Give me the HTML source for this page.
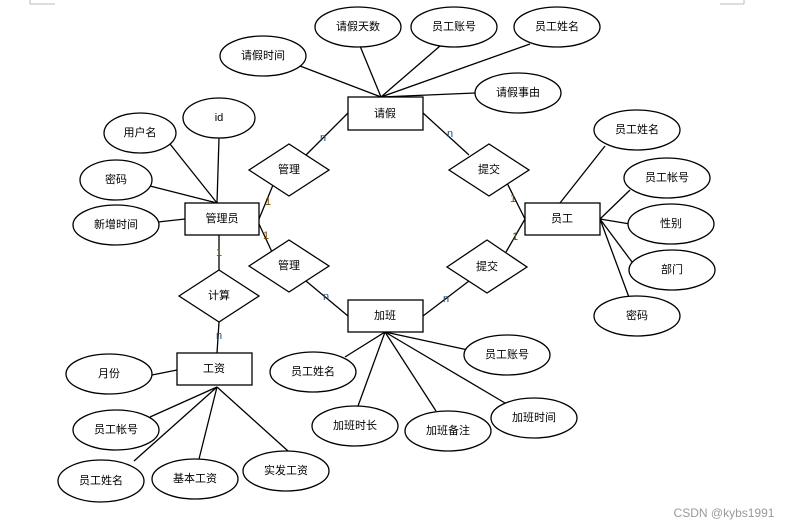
<!DOCTYPE html>
<html><head><meta charset="utf-8"><style>
html,body{margin:0;padding:0;background:#fff;}
svg{display:block;}
text{font-family:"Liberation Sans","Noto Sans CJK SC",sans-serif;font-size:11px;fill:#000;text-anchor:middle;dominant-baseline:central;}
.c{font-size:11px;fill:#7a4a00;}
.n{font-size:11px;fill:#1f4e79;}
</style></head><body>
<svg width="794" height="527" viewBox="0 0 794 527" xmlns="http://www.w3.org/2000/svg">
<g stroke="#000" stroke-width="1.3" fill="none">
<!-- lines 请假 -->
<line x1="381" y1="97" x2="360" y2="46"/>
<line x1="381" y1="97" x2="440" y2="46"/>
<line x1="381" y1="97" x2="530" y2="44"/>
<line x1="381" y1="97" x2="300" y2="66"/>
<line x1="381" y1="97" x2="475" y2="93"/>
<!-- 管理员 attrs -->
<line x1="217" y1="203" x2="219" y2="138"/>
<line x1="217" y1="203" x2="170" y2="144"/>
<line x1="217" y1="203" x2="150" y2="186"/>
<line x1="185" y1="219" x2="158" y2="222"/>
<!-- 员工 attrs -->
<line x1="560" y1="203" x2="605" y2="146"/>
<line x1="600" y1="219" x2="630" y2="190"/>
<line x1="600" y1="219" x2="630" y2="224"/>
<line x1="600" y1="219" x2="632" y2="262"/>
<line x1="600" y1="219" x2="630" y2="300"/>
<!-- 加班 attrs -->
<line x1="385" y1="332" x2="345" y2="357"/>
<line x1="385" y1="332" x2="468" y2="350"/>
<line x1="385" y1="332" x2="358" y2="406"/>
<line x1="385" y1="332" x2="436" y2="411"/>
<line x1="385" y1="332" x2="505" y2="403"/>
<!-- 工资 attrs -->
<line x1="177" y1="370" x2="152" y2="375"/>
<line x1="217" y1="387" x2="150" y2="417"/>
<line x1="217" y1="387" x2="134" y2="461"/>
<line x1="217" y1="387" x2="199" y2="459"/>
<line x1="217" y1="387" x2="288" y2="451"/>
<!-- relationships -->
<line x1="348" y1="113" x2="306" y2="155"/>
<line x1="259" y1="219" x2="273" y2="185"/>
<line x1="259" y1="224" x2="272" y2="252"/>
<line x1="348" y1="316" x2="306" y2="281"/>
<line x1="423" y1="113" x2="469" y2="155"/>
<line x1="525" y1="219" x2="507" y2="183"/>
<line x1="525" y1="219" x2="506" y2="252"/>
<line x1="423" y1="316" x2="469" y2="281"/>
<line x1="219" y1="235" x2="219" y2="270"/>
<line x1="219" y1="322" x2="217" y2="353"/>
</g>
<g stroke="#000" stroke-width="1.3" fill="#fff">
<rect x="348" y="97" width="75" height="33"/>
<rect x="185" y="203" width="74" height="32"/>
<rect x="525" y="203" width="75" height="32"/>
<rect x="348" y="300" width="75" height="32"/>
<rect x="177" y="353" width="75" height="32"/>
<polygon points="249,170 289,144 329,170 289,196"/>
<polygon points="449,170 489,144 529,170 489,196"/>
<polygon points="249,266 289,240 329,266 289,292"/>
<polygon points="447,267 487,240 527,267 487,293"/>
<polygon points="179,296 219,270 259,296 219,322"/>
<ellipse cx="358" cy="27" rx="43" ry="20"/>
<ellipse cx="454" cy="27" rx="43" ry="20"/>
<ellipse cx="557" cy="27" rx="43" ry="20"/>
<ellipse cx="263" cy="56" rx="43" ry="20"/>
<ellipse cx="518" cy="93" rx="43" ry="20"/>
<ellipse cx="219" cy="118" rx="36" ry="20"/>
<ellipse cx="140" cy="133" rx="36" ry="20"/>
<ellipse cx="116" cy="180" rx="36" ry="20"/>
<ellipse cx="116" cy="225" rx="43" ry="20"/>
<ellipse cx="637" cy="130" rx="43" ry="20"/>
<ellipse cx="667" cy="178" rx="43" ry="20"/>
<ellipse cx="671" cy="224" rx="43" ry="20"/>
<ellipse cx="672" cy="270" rx="43" ry="20"/>
<ellipse cx="637" cy="316" rx="43" ry="20"/>
<ellipse cx="313" cy="372" rx="43" ry="20"/>
<ellipse cx="507" cy="355" rx="43" ry="20"/>
<ellipse cx="355" cy="426" rx="43" ry="20"/>
<ellipse cx="448" cy="431" rx="43" ry="20"/>
<ellipse cx="534" cy="418" rx="43" ry="20"/>
<ellipse cx="109" cy="374" rx="43" ry="20"/>
<ellipse cx="116" cy="430" rx="43" ry="20"/>
<ellipse cx="101" cy="481" rx="43" ry="21"/>
<ellipse cx="195" cy="479" rx="43" ry="20"/>
<ellipse cx="286" cy="471" rx="43" ry="20"/>
</g>
<g>
<text x="385" y="114">请假</text>
<text x="222" y="219">管理员</text>
<text x="562" y="219">员工</text>
<text x="385" y="316">加班</text>
<text x="214" y="369">工资</text>
<text x="289" y="170">管理</text>
<text x="489" y="170">提交</text>
<text x="289" y="266">管理</text>
<text x="487" y="267">提交</text>
<text x="219" y="296">计算</text>
<text x="358" y="27">请假天数</text>
<text x="454" y="27">员工账号</text>
<text x="557" y="27">员工姓名</text>
<text x="263" y="56">请假时间</text>
<text x="518" y="93">请假事由</text>
<text x="219" y="118">id</text>
<text x="140" y="133">用户名</text>
<text x="116" y="180">密码</text>
<text x="116" y="225">新增时间</text>
<text x="637" y="130">员工姓名</text>
<text x="667" y="178">员工帐号</text>
<text x="671" y="224">性别</text>
<text x="672" y="270">部门</text>
<text x="637" y="316">密码</text>
<text x="313" y="372">员工姓名</text>
<text x="507" y="355">员工账号</text>
<text x="355" y="426">加班时长</text>
<text x="448" y="431">加班备注</text>
<text x="534" y="418">加班时间</text>
<text x="109" y="374">月份</text>
<text x="116" y="430">员工帐号</text>
<text x="101" y="481">员工姓名</text>
<text x="195" y="479">基本工资</text>
<text x="286" y="471">实发工资</text>
<text class="n" x="323" y="138">n</text>
<text class="n" x="450" y="134">n</text>
<text class="c" x="268" y="202">1</text>
<text class="c" x="266" y="236">1</text>
<text class="c" x="513" y="199">1</text>
<text class="c" x="515" y="237">1</text>
<text class="n" x="326" y="297">n</text>
<text class="n" x="446" y="299">n</text>
<text class="c" x="219" y="253">1</text>
<text class="n" x="219" y="336">n</text>
<text x="724" y="513" style="fill:#999;font-size:12px">CSDN @kybs1991</text>
</g>
<g stroke="#bbb" stroke-width="1">
<line x1="30" y1="0" x2="30" y2="4"/><line x1="30" y1="4" x2="55" y2="4"/>
<line x1="744" y1="0" x2="744" y2="4"/><line x1="720" y1="4" x2="744" y2="4"/>
</g>
</svg>
</body></html>
